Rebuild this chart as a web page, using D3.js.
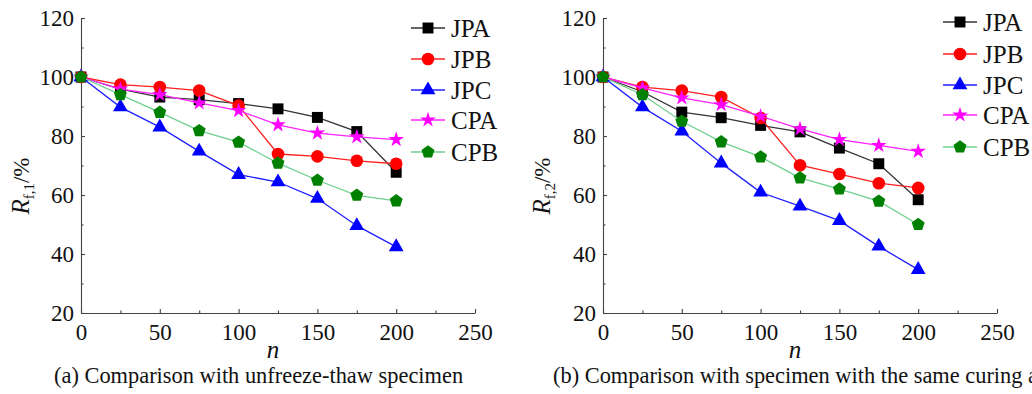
<!DOCTYPE html>
<html>
<head>
<meta charset="utf-8">
<script src="https://cdn.jsdelivr.net/npm/d3@7"></script>
<style>
  body { margin: 0; background: #fff; }
</style>
</head>
<body>
<div id="chart"></div>
<script>
// freeze-thaw cycles
const cycles = [0, 25, 50, 75, 100, 125, 150, 175, 200];
const seriesNames = ["JPA", "JPB", "JPC", "CPA", "CPB"];

// (a) vs unfreeze-thaw specimen
const jpaA = [100, 95.9, 93.2, 92.3, 91.0, 89.2, 86.3, 81.5, 67.7];
const jpbA = [100, 97.4, 96.6, 95.4, 90.3, 73.9, 73.1, 71.6, 70.6];
const jpcA = [100, 89.8, 83.0, 74.8, 66.9, 64.4, 58.8, 49.6, 42.4];
const cpaA = [100, 95.9, 94.0, 91.2, 88.6, 83.8, 81.0, 79.7, 78.8];
const cpbA = [100, 94.0, 88.0, 81.8, 77.9, 70.8, 65.0, 59.9, 58.0];

// (b) vs specimen with same curing age
const jpaB = [100, 95.0, 88.1, 86.2, 83.6, 81.4, 75.9, 70.6, 58.4];
const jpbB = [100, 96.6, 95.4, 93.2, 86.1, 70.1, 67.1, 64.0, 62.4];
const jpcB = [100, 89.8, 81.6, 70.8, 60.9, 56.2, 51.3, 42.6, 34.7];
const cpaB = [100, 96.3, 92.9, 90.6, 86.7, 82.4, 78.8, 76.8, 74.8];
const cpbB = [100, 94.0, 85.0, 78.0, 72.9, 65.8, 62.0, 57.9, 50.0];

const yTicks = [20, 40, 60, 80, 100, 120];
const yMinor = [30, 50, 70, 90, 110];
const xTicks = [0, 50, 100, 150, 200, 250];
const xMinor = [25, 75, 125, 175, 225];

const W = 1032, H = 394;
const FONT = '"Liberation Serif", "Times New Roman", Times, serif';

// pentagon symbol (d3 has none)
const symbolPentagon = {
  draw(ctx, size) {
    const r = Math.sqrt(size / 2.378);
    for (let i = 0; i < 5; i++) {
      const a = -Math.PI / 2 + i * 2 * Math.PI / 5;
      const px = r * Math.cos(a), py = r * Math.sin(a);
      if (i === 0) ctx.moveTo(px, py); else ctx.lineTo(px, py);
    }
    ctx.closePath();
  }
};

const styles = {
  JPA: { line: "#333333", fill: "#000000", sym: d3.symbolSquare, size: 120 },
  JPB: { line: "#ff2020", fill: "#ff0000", sym: d3.symbolCircle, size: 125 },
  JPC: { line: "#2020ff", fill: "#0000ff", sym: d3.symbolTriangle, size: 95 },
  CPA: { line: "#ff22ff", fill: "#ff00ff", sym: d3.symbolStar, size: 75 },
  CPB: { line: "#6fd08f", fill: "#008000", sym: symbolPentagon, size: 110 }
};

const svg = d3.select("#chart").append("svg")
  .attr("width", W)
  .attr("height", H)
  .style("font-family", FONT);

function drawPanel(opt) {
  const x = d3.scaleLinear().domain([0, 250]).range([opt.x0, opt.x0 + 394]);
  const y = d3.scaleLinear().domain([20, 120]).range([313, 18]);
  const g = svg.append("g");

  // Y axis
  g.append("g")
    .attr("transform", `translate(${opt.x0},0)`)
    .call(d3.axisLeft(y).tickValues(yTicks).tickSize(-4).tickSizeOuter(0).tickPadding(7));
  g.append("g")
    .attr("transform", `translate(${opt.x0},0)`)
    .call(d3.axisLeft(y).tickValues(yMinor).tickSize(-2.5).tickSizeOuter(0).tickFormat(""))
    .select(".domain").remove();

  // X axis
  g.append("g")
    .attr("transform", "translate(0,313)")
    .call(d3.axisBottom(x).tickValues(xTicks).tickSize(-4).tickSizeOuter(0).tickPadding(11));
  g.append("g")
    .attr("transform", "translate(0,313)")
    .call(d3.axisBottom(x).tickValues(xMinor).tickSize(-2.5).tickSizeOuter(0).tickFormat(""))
    .select(".domain").remove();

  g.selectAll(".tick text")
    .style("font-family", FONT)
    .style("font-size", "23px")
    .attr("fill", "#111");
  g.selectAll(".domain, .tick line").attr("stroke", "#444").attr("stroke-width", 1.1);

  // Series
  const line = d3.line().x((d, i) => x(cycles[i])).y(d => y(d));
  opt.series.forEach((vals, k) => {
    const st = styles[seriesNames[k]];
    g.append("path")
      .datum(vals)
      .attr("fill", "none")
      .attr("stroke", st.line)
      .attr("stroke-width", 1.3)
      .attr("d", line);
    g.selectAll(null)
      .data(vals)
      .enter().append("path")
      .attr("transform", (d, i) => `translate(${x(cycles[i])},${y(d)})`)
      .attr("d", d3.symbol(st.sym, st.size))
      .attr("fill", st.fill);
  });

  // Legend
  seriesNames.forEach((name, k) => {
    const st = styles[name];
    const ly = opt.legY[k];
    const lg = g.append("g").attr("transform", `translate(${opt.legX},${ly})`);
    lg.append("line").attr("x1", 0).attr("x2", 34).attr("y1", 0).attr("y2", 0)
      .attr("stroke", st.line).attr("stroke-width", 1.3);
    lg.append("path").attr("transform", "translate(17,0)")
      .attr("d", d3.symbol(st.sym, st.size)).attr("fill", st.fill);
    lg.append("text").attr("x", 40).attr("y", 9)
      .style("font-family", FONT)
      .style("font-size", "25px").attr("fill", "#111").text(name);
  });

  // Y label
  const yl = g.append("text")
    .attr("transform", `translate(${opt.yLabelX},186) rotate(-90)`)
    .attr("text-anchor", "middle")
    .attr("fill", "#111")
    .style("font-family", FONT)
    .style("font-size", "25px");
  yl.append("tspan").attr("font-style", "italic").text("R");
  yl.append("tspan").style("font-size", "15px").attr("dy", 5).text("f," + opt.sub);
  yl.append("tspan").attr("dy", -5).style("font-size", "23px").text("/%");

  // X label
  g.append("text")
    .attr("x", opt.x0 + 192).attr("y", 358)
    .attr("text-anchor", "middle")
    .attr("fill", "#111")
    .style("font-family", FONT)
    .style("font-size", "25px")
    .attr("font-style", "italic")
    .text("n");

  // Caption
  g.append("text")
    .attr("x", opt.capX).attr("y", 383)
    .attr("fill", "#111")
    .style("font-family", FONT)
    .style("font-size", "22.4px")
    .text(opt.caption);
}

drawPanel({
  x0: 81, series: [jpaA, jpbA, jpcA, cpaA, cpbA],
  legX: 411, legY: [28, 59, 90, 120, 152],
  yLabelX: 29, sub: "1",
  capX: 54, caption: "(a) Comparison with unfreeze-thaw specimen"
});

drawPanel({
  x0: 603, series: [jpaB, jpbB, jpcB, cpaB, cpbB],
  legX: 943, legY: [22, 54, 85, 115, 147],
  yLabelX: 550, sub: "2",
  capX: 553, caption: "(b) Comparison with specimen with the same curing age"
});
</script>
</body>
</html>
